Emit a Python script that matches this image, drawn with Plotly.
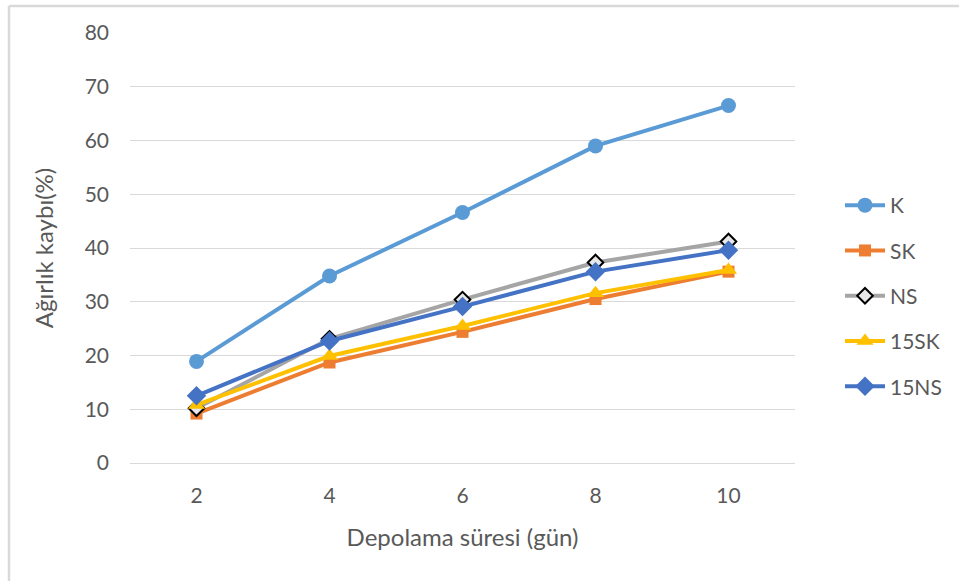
import plotly.graph_objects as go

# Storage time (days) and weight loss (%) per treatment
days = ["2", "4", "6", "8", "10"]
k_vals = [18.9, 34.8, 46.6, 59.0, 66.5]
sk_vals = [9.2, 18.7, 24.4, 30.5, 35.6]
ns_vals = [10.2, 23.1, 30.4, 37.3, 41.2]
sk15_vals = [10.8, 19.9, 25.5, 31.6, 35.9]
ns15_vals = [12.5, 22.7, 29.1, 35.6, 39.6]

series = [
    ("K", k_vals, "#5B9BD5", dict(symbol="circle", size=15, color="#5B9BD5")),
    ("SK", sk_vals, "#ED7D31", dict(symbol="square", size=12, color="#ED7D31")),
    ("NS", ns_vals, "#A5A5A5", dict(symbol="diamond", size=12, color="#E8E8E8",
                                     line=dict(color="#000000", width=2))),
    ("15SK", sk15_vals, "#FFC000", dict(symbol="triangle-up", size=15, color="#FFC000")),
    ("15NS", ns15_vals, "#4472C4", dict(symbol="diamond", size=15, color="#4472C4")),
]

FONT = "Lato, 'Open Sans', sans-serif"
GREY = "#595959"

fig = go.Figure()
for i, (name, vals, col, mk) in enumerate(series):
    fig.add_trace(go.Scatter(
        x=days, y=vals, name=name, mode="lines+markers",
        line=dict(color=col, width=4), marker=mk,
        legendgroup=f"g{i}",
    ))

# Frame around the chart area
L, R, T, B = 130, 795, 33, 463
W, H = R - L, B - T
def px(x):
    return (x - L) / W
def py(y):
    return (B - y) / H

fig.add_shape(type="line", xref="paper", yref="paper",
              x0=px(9), x1=px(959), y0=py(6), y1=py(6),
              line=dict(color="#D9D9D9", width=2.5))
fig.add_shape(type="line", xref="paper", yref="paper",
              x0=px(9), x1=px(9), y0=py(6), y1=py(581),
              line=dict(color="#D9D9D9", width=2.5))

fig.update_layout(
    width=959, height=581,
    margin=dict(l=L, r=959 - R, t=T, b=581 - B),
    paper_bgcolor="white", plot_bgcolor="white",
    font=dict(family=FONT, color=GREY, size=21),
    showlegend=True,
    legend=dict(x=px(840), y=py(185), xanchor="left", yanchor="top",
                font=dict(size=21, color=GREY),
                tracegroupgap=15, itemwidth=40,
                bgcolor="rgba(0,0,0,0)"),
    xaxis=dict(
        type="category", range=[-0.5, 4.5], showgrid=False, zeroline=False,
        showline=False, ticks="", ticklabelstandoff=18,
        tickfont=dict(size=21, color=GREY),
        title=dict(text="Depolama süresi (gün)", font=dict(size=24, color=GREY), standoff=23),
    ),
    yaxis=dict(
        range=[0, 80], dtick=10, showgrid=True, gridcolor="#D9D9D9", gridwidth=1,
        zeroline=True, zerolinecolor="#D9D9D9", zerolinewidth=1,
        showline=False, ticks="", ticklabelstandoff=20,
        tickfont=dict(size=21, color=GREY),
        title=dict(text="Ağırlık kaybı(%)", font=dict(size=24, color=GREY), standoff=24),
    ),
)

fig.write_html("out.html")
